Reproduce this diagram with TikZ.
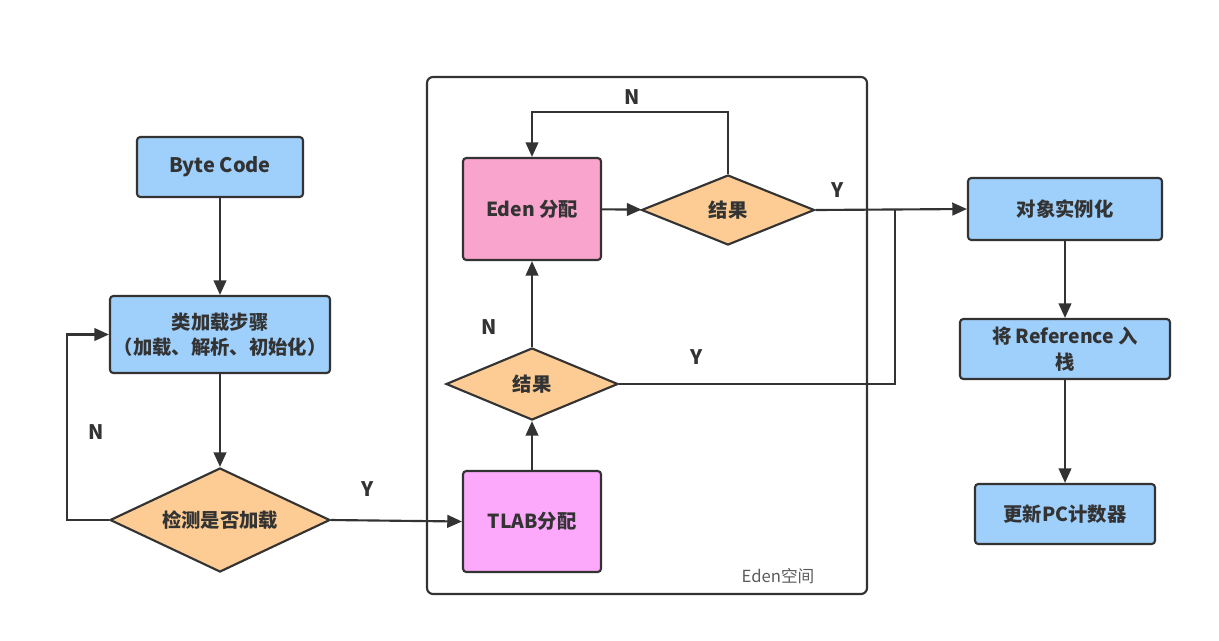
\documentclass[tikz,border=0pt]{standalone}
\usepackage{fontspec}
\setmainfont{Noto Sans CJK SC}
\usetikzlibrary{shapes.geometric,arrows.meta}
\definecolor{ln}{HTML}{333333}
\definecolor{bluef}{HTML}{9FCFFB}
\definecolor{edenf}{HTML}{F8A4CC}
\definecolor{tlabf}{HTML}{FCA9FC}
\definecolor{decf}{HTML}{FCCC94}
\definecolor{txt}{HTML}{333333}
\tikzset{
  box/.style={draw=ln, line width=1.6pt, rounded corners=2.5pt, inner sep=1pt, align=center,
    font=\fontsize{14.5pt}{19pt}\selectfont\bfseries, text=txt},
  bluebox/.style={box, fill=bluef},
  dec/.style={diamond, draw=ln, line width=1.6pt, fill=decf, inner sep=0pt, aspect=2.2,
    font=\fontsize{14.5pt}{19pt}\selectfont\bfseries, text=txt},
  arr/.style={draw=ln, line width=1.6pt, -{Triangle[length=11pt,width=9.5pt]}},
  con/.style={draw=ln, line width=1.6pt},
  lbl/.style={font=\fontsize{15pt}{19pt}\selectfont\bfseries, text=txt},
}
\begin{document}
\begin{tikzpicture}[x=0.75pt,y=-0.75pt]
\useasboundingbox (0,0) rectangle (1219,640);
\fill[white] (0,0) rectangle (1219,640);
% Eden container
\draw[draw=ln, line width=1.6pt, rounded corners=4.5pt] (427,77) rectangle (867,594);
\node[font=\fontsize{12.5pt}{15pt}\selectfont, text=ln!80] (edenlbl) at (778,576) {Eden空间};
% left column
\node[bluebox, minimum width=124.5pt, minimum height=45pt, font=\fontsize{15pt}{19pt}\selectfont\bfseries] (bytecode) at (220,167) {Byte Code};
\node[bluebox, minimum width=165pt, minimum height=57.75pt] (load) at (220,334.5) {类加载步骤\\（加载、解析、初始化）};
\node[dec, minimum width=165pt, minimum height=78pt] (check) at (220,520) {检测是否加载};
% Eden inner
\node[box, fill=edenf, minimum width=103.5pt, minimum height=76.5pt] (edenbox) at (532,209) {Eden 分配};
\node[dec, minimum width=129.75pt, minimum height=52.5pt] (res1) at (728,210) {结果};
\node[dec, minimum width=129pt, minimum height=54pt] (res2) at (532,384) {结果};
\node[box, fill=tlabf, minimum width=103.5pt, minimum height=75.75pt] (tlab) at (532,521.5) {TLAB分配};
% right column
\node[bluebox, minimum width=145.5pt, minimum height=46.5pt] (obj) at (1065,209) {对象实例化};
\node[bluebox, minimum width=157.5pt, minimum height=45pt] (ref) at (1065,349) {将 Reference 入\\栈};
\node[bluebox, minimum width=135pt, minimum height=45pt] (pc) at (1065,514) {更新PC计数器};
\coordinate (join) at (895,210);
% connectors
\draw[arr] (bytecode) -- (load);
\draw[arr] (load) -- (check);
\draw[arr] (check.west) -- ++(-42,0) |- (load.west);
\draw[arr] (check.east) -- (tlab.west);
\draw[arr] (tlab) -- (res2);
\draw[arr] (res2) -- (edenbox);
\draw[arr] (edenbox) -- (res1);
\draw[arr] (res1.north) -- ++(0,-62) -| (edenbox.north);
\draw[arr] (res1.east) -- (obj.west);
\draw[con] (res2.east) -| (join);
\draw[arr] (obj) -- (ref);
\draw[arr] (ref) -- (pc);
% labels
\node[lbl] (n1) at (96,432) {N};
\node[lbl] (y1) at (368,489) {Y};
\node[lbl] (n2) at (489,327) {N};
\node[lbl] (n3) at (632,97) {N};
\node[lbl] (y2) at (838,190) {Y};
\node[lbl] (y3) at (697,357) {Y};
\end{tikzpicture}
\end{document}
